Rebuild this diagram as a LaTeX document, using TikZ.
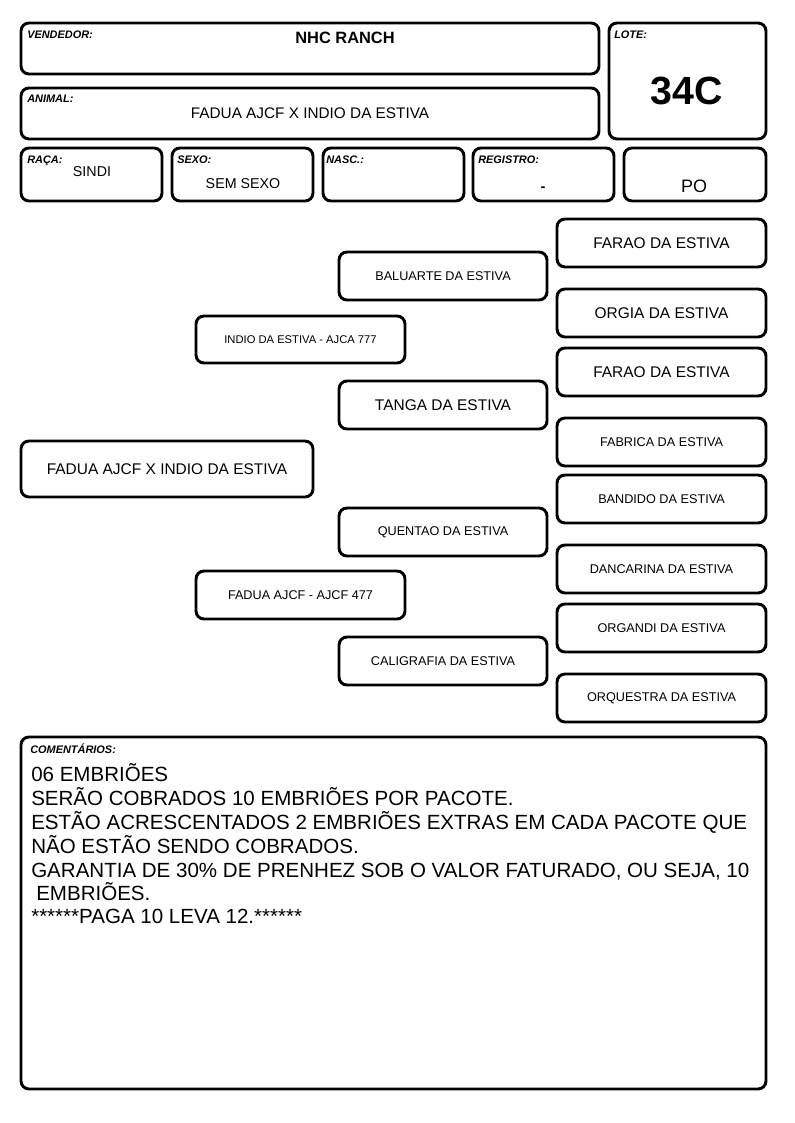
\documentclass[tikz,border=0pt]{standalone}
\usepackage{fontspec}
\setmainfont{Liberation Sans}
\newcommand{\fs}[1]{\fontsize{#1}{#1}\selectfont}
\tikzset{
  box/.style={draw=black, line width=2.2pt, rounded corners=6pt},
  lbl/.style={anchor=base west, inner sep=0pt, font=\fs{8.2pt}\bfseries\itshape},
  val/.style={anchor=base, inner sep=0pt},
  ped/.style={inner sep=0pt, anchor=center},
  big/.style={font=\fs{11.6pt}},
  small/.style={font=\fs{9.5pt}},
  cmt/.style={anchor=base west, inner sep=0pt, font=\fs{15.4pt}}
}
% \pbox{name}{x1}{y1}{x2}{y2}{style}{text}
\newcommand{\pbox}[7]{%
  \draw[box] (#2,#3) rectangle (#4,#5);
  \node[ped,#6] (#1) at ({(#2+#4)/2},{(#3+#5)/2}) {#7};
}
\begin{document}
\begin{tikzpicture}[x=0.75pt,y=-0.75pt]
\useasboundingbox[fill=white] (0,0) rectangle (794,1123);
% header
\draw[box] (21,23) rectangle (599,74);
\node[lbl] (vendl) at (27,39) {VENDEDOR:};
\node[val,font=\fs{12.3pt}\bfseries] (vend) at (345,44) {NHC RANCH};
\draw[box] (21,88) rectangle (599,139);
\node[lbl] (animl) at (27,103) {ANIMAL:};
\node[val,font=\fs{11.5pt}] (anim) at (310,118.5) {FADUA AJCF X INDIO DA ESTIVA};
\draw[box] (609,23) rectangle (766,139);
\node[lbl] (lotel) at (614,39) {LOTE:};
\node[val,font=\fs{29.5pt}\bfseries] (lote) at (687,105) {34C};
\draw[box] (21,148) rectangle (162,201);
\node[lbl] (racal) at (27,164) {RAÇA:};
\node[val,font=\fs{10.7pt}] (raca) at (92,177) {SINDI};
\draw[box] (172,148) rectangle (313,201);
\node[lbl] (sexol) at (177,164) {SEXO:};
\node[val,font=\fs{10.7pt}] (sexo) at (243,189) {SEM SEXO};
\draw[box] (323,148) rectangle (464,201);
\node[lbl] (nascl) at (326,164) {NASC.:};
\draw[box] (473,148) rectangle (614,201);
\node[lbl] (regl) at (478,164) {REGISTRO:};
\node[val,font=\fs{11pt}\bfseries] (reg) at (543,192) {-};
\draw[box] (624,148) rectangle (766,201);
\node[val,font=\fs{13.5pt}] (po) at (694,192.5) {PO};
% pedigree
\pbox{main}{21}{441}{313}{497}{big}{FADUA AJCF X INDIO DA ESTIVA}
\pbox{pai}{196}{316}{405}{363}{font=\fs{8.4pt}}{INDIO DA ESTIVA - AJCA 777}
\pbox{mae}{196}{571}{405}{619}{small}{FADUA AJCF - AJCF 477}
\pbox{avp}{339}{252}{547}{300}{small}{BALUARTE DA ESTIVA}
\pbox{avpm}{339}{381}{547}{429}{big}{TANGA DA ESTIVA}
\pbox{avm}{339}{508}{547}{556}{small}{QUENTAO DA ESTIVA}
\pbox{avmm}{339}{637}{547}{685}{small}{CALIGRAFIA DA ESTIVA}
\pbox{b1}{557}{219}{766}{267}{big}{FARAO DA ESTIVA}
\pbox{b2}{557}{289}{766}{337}{big}{ORGIA DA ESTIVA}
\pbox{b3}{557}{348}{766}{396}{big}{FARAO DA ESTIVA}
\pbox{b4}{557}{418}{766}{466}{small}{FABRICA DA ESTIVA}
\pbox{b5}{557}{475}{766}{523}{small}{BANDIDO DA ESTIVA}
\pbox{b6}{557}{545}{766}{593}{small}{DANCARINA DA ESTIVA}
\pbox{b7}{557}{604}{766}{652}{small}{ORGANDI DA ESTIVA}
\pbox{b8}{557}{674}{766}{722}{small}{ORQUESTRA DA ESTIVA}
% comments
\draw[box] (21,737) rectangle (766,1089);
\node[lbl] (cmtl) at (30,753) {COMENTÁRIOS:};
\node[cmt] (c1) at (31,781) {06 EMBRIÕES};
\node[cmt] (c2) at (31,805) {SERÃO COBRADOS 10 EMBRIÕES POR PACOTE.};
\node[cmt] (c3) at (31,829) {ESTÃO ACRESCENTADOS 2 EMBRIÕES EXTRAS EM CADA PACOTE QUE};
\node[cmt] (c4) at (31,853) {NÃO ESTÃO SENDO COBRADOS.};
\node[cmt] (c5) at (31,877) {GARANTIA DE 30\% DE PRENHEZ SOB O VALOR FATURADO, OU SEJA, 10};
\node[cmt] (c6) at (36,900) {EMBRIÕES.};
\node[cmt] (c7) at (31,923) {******PAGA 10 LEVA 12.******};
\end{tikzpicture}
\end{document}
